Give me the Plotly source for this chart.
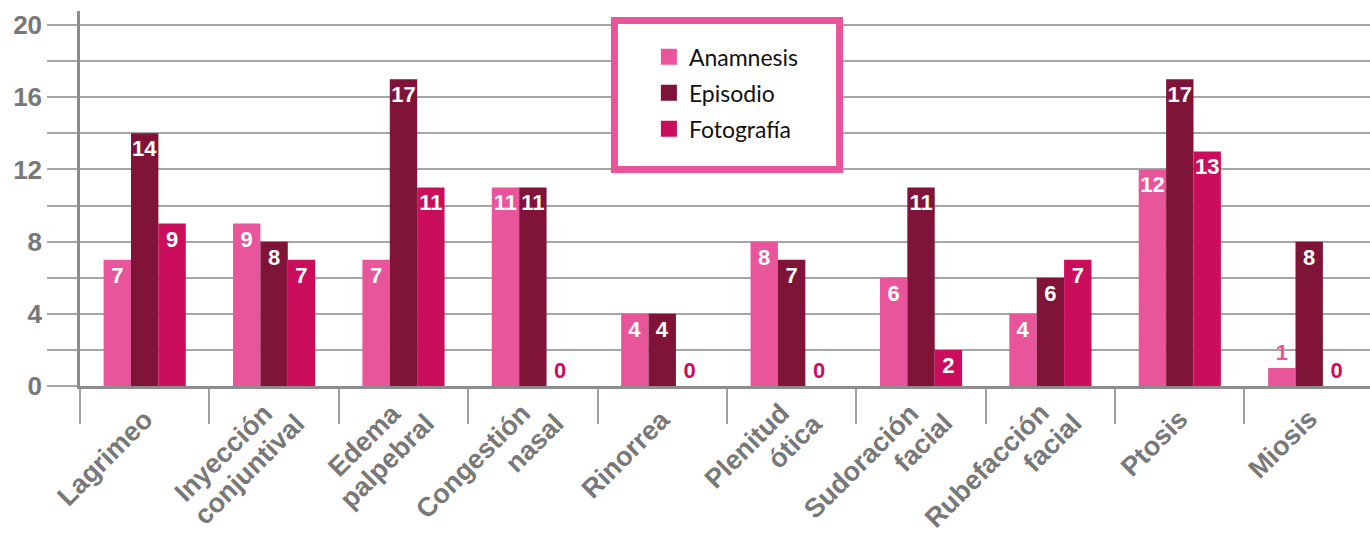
import plotly.graph_objects as go

categories = ["Lagrimeo", "Inyección\nconjuntival", "Edema\npalpebral", "Congestión\nnasal",
              "Rinorrea", "Plenitud\nótica", "Sudoración\nfacial", "Rubefacción\nfacial",
              "Ptosis", "Miosis"]
series_names = ["Anamnesis", "Episodio", "Fotografía"]
anamnesis = [7, 9, 7, 11, 4, 8, 6, 4, 12, 1]
episodio = [14, 8, 17, 11, 4, 7, 11, 6, 17, 8]
fotografia = [9, 7, 11, 0, 0, 0, 2, 7, 13, 0]
colors = ["#E9559A", "#7F1438", "#CB0E5B"]
y_ticks = [0, 4, 8, 12, 16, 20]

GREY = "#787878"
fig = go.Figure()
for name, vals, col in zip(series_names, [anamnesis, episodio, fotografia], colors):
    fig.add_trace(go.Bar(
        x=categories, y=vals, name=name, marker_color=col,
        marker_line_width=0, showlegend=False,
        text=[str(v) for v in vals], textangle=0,
        textposition=["inside" if v >= 2 else "outside" for v in vals],
        insidetextanchor="end", constraintext="none", cliponaxis=False,
        insidetextfont=dict(family="Liberation Sans", size=22, color="white", weight="bold"),
        outsidetextfont=dict(family="Liberation Sans", size=22, color=col, weight="bold"),
    ))
for i, (name, col) in enumerate(zip(series_names, colors)):
    fig.add_trace(go.Scatter(
        x=[None], y=[None], mode="markers", name=name, legendgroup=f"g{i}",
        marker=dict(symbol="square", size=16, color=col),
    ))

# rotated category labels, one annotation per text line
annotations = []
for idx, cat in enumerate(categories):
    lines = cat.split("\n")
    multi = len(lines) > 1
    for k, line in enumerate(lines):
        if multi:
            xs, ys = 4 + 33 * k, -12 - 10 * k
        else:
            xs, ys = 14, -18
        annotations.append(dict(
            x=idx, y=0, xref="x", yref="paper", text=line, showarrow=False,
            textangle=-45, xanchor="right", yanchor="top", xshift=xs, yshift=ys,
            borderpad=0, borderwidth=0,
            font=dict(family="Liberation Sans", size=27, color=GREY, weight="bold"),
        ))

fig.update_layout(
    width=1370, height=535,
    margin=dict(l=80, r=0, t=11, b=149),
    paper_bgcolor="white", plot_bgcolor="white",
    barmode="group", bargap=0.365, bargroupgap=0,
    showlegend=True,
    legend=dict(x=0.441, y=0.935, xanchor="left", yanchor="top",
                bgcolor="rgba(0,0,0,0)", borderwidth=0, tracegroupgap=3,
                font=dict(family="Lato", size=23, color="#111111"),
                itemsizing="trace"),
    shapes=[dict(type="rect", xref="paper", yref="paper",
                 x0=0.4143, x1=0.5888, y0=0.5773, y1=0.9747,
                 line=dict(color="#E9559A", width=7), fillcolor="white", layer="above")],
    annotations=annotations,
)
fig.update_xaxes(
    type="category", range=[-0.5, 9.47], automargin=False,
    tickson="boundaries", ticks="outside", ticklen=35,
    tickcolor="#A0A0A0", tickwidth=1.5, showticklabels=False,
    showline=True, linecolor="#8C8C8C", linewidth=2.5, showgrid=False, zeroline=False,
)
fig.update_yaxes(
    range=[0, 20.78], automargin=False, tickmode="array", tickvals=y_ticks,
    ticks="outside", ticklen=30, tickcolor="#A6A6A6", tickwidth=1.5,
    minor=dict(dtick=2, tick0=0, ticks="outside", ticklen=30, tickcolor="#A6A6A6", tickwidth=1.5,
               showgrid=True, gridcolor="#A6A6A6", gridwidth=1.5),
    tickfont=dict(family="Liberation Sans", size=26, color=GREY, weight="bold"),
    showgrid=True, gridcolor="#A6A6A6", gridwidth=1.5,
    showline=True, linecolor="#8C8C8C", linewidth=2.5, zeroline=False,
)
fig.write_html("out.html")
